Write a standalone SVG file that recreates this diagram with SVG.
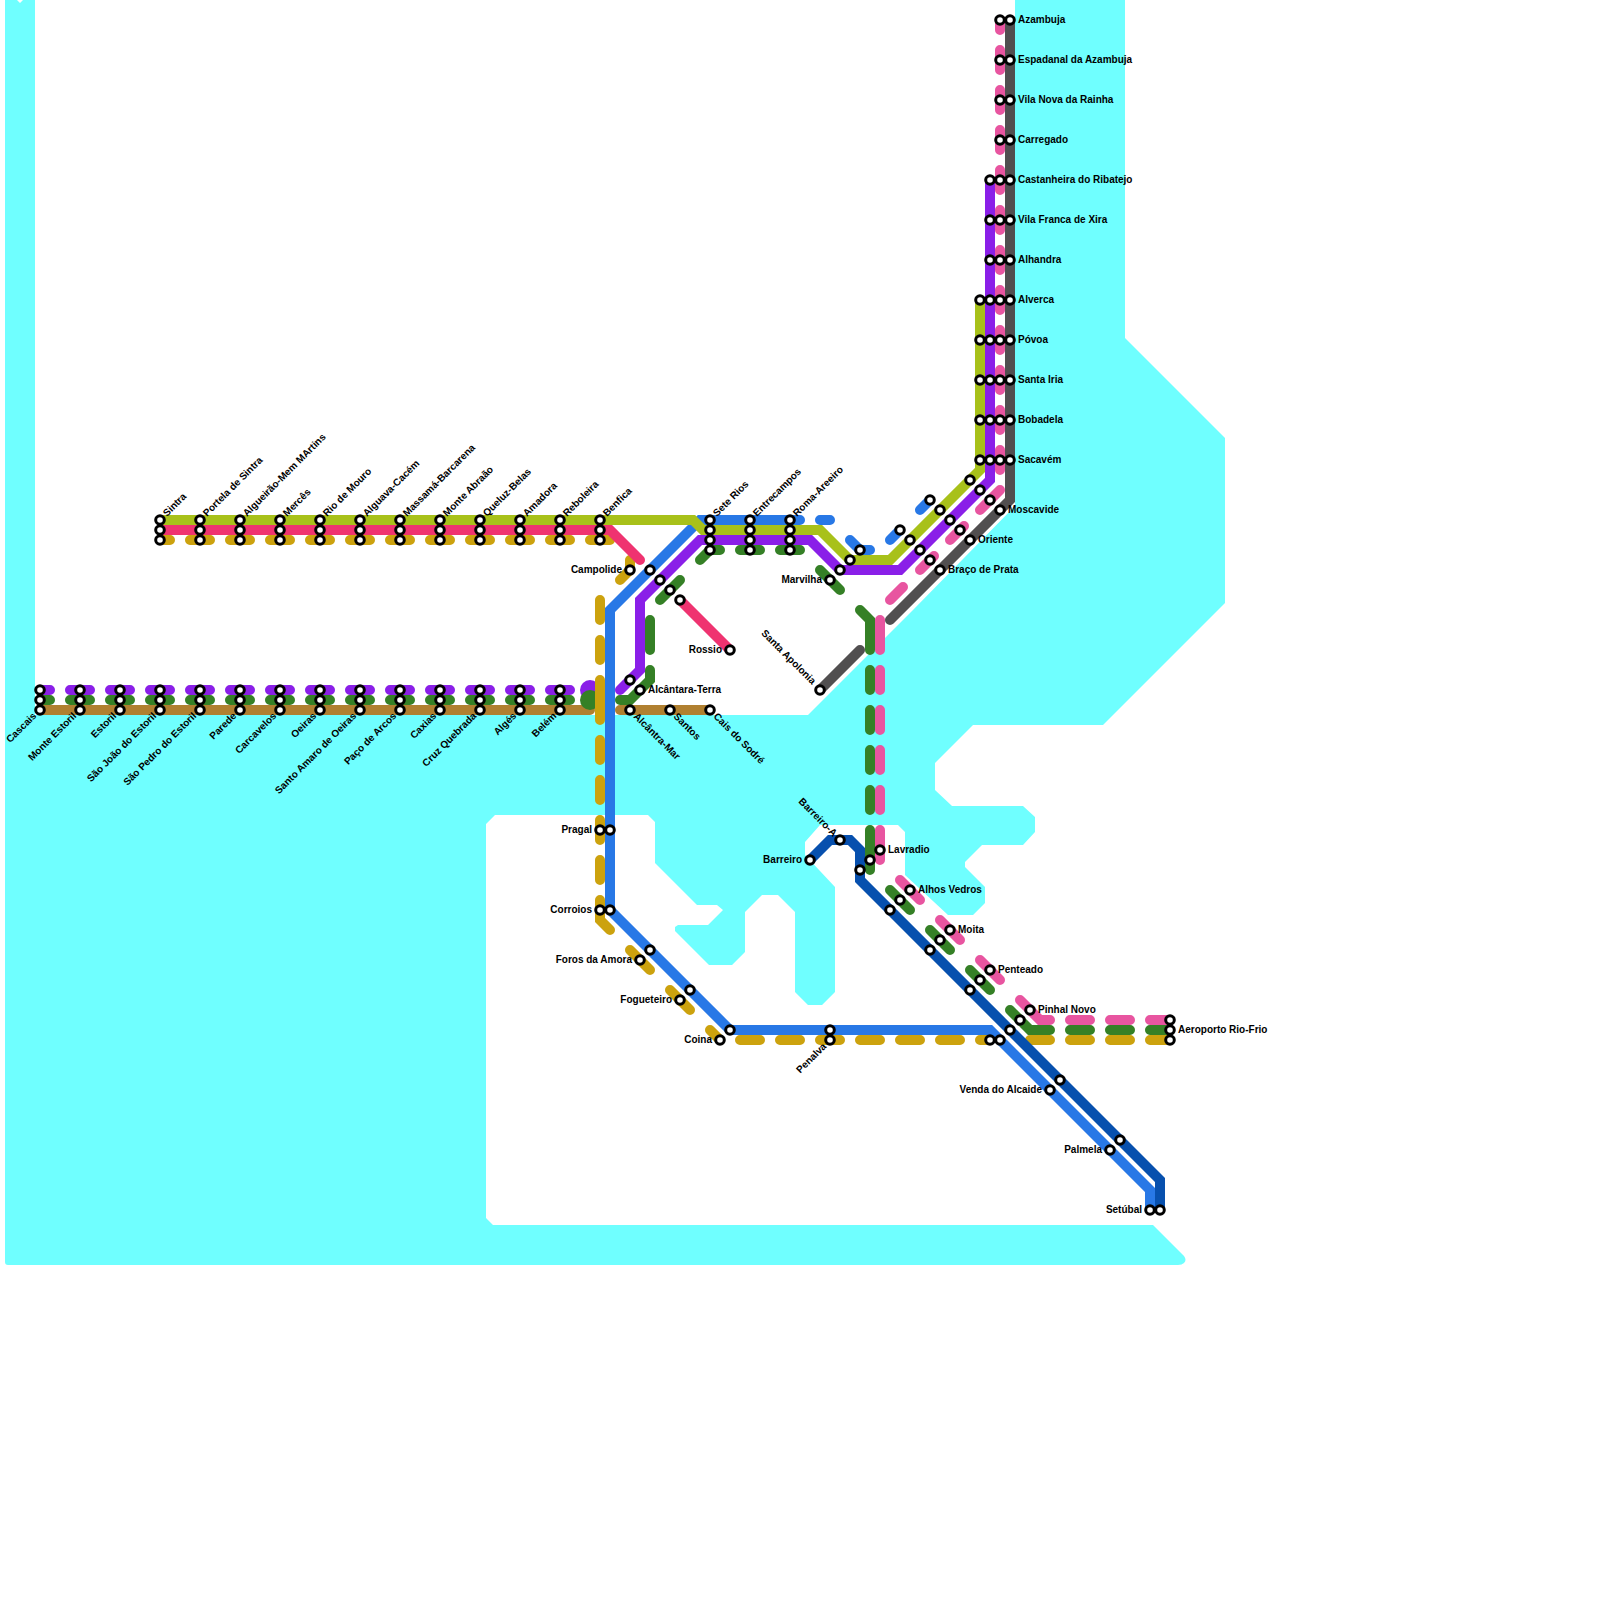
<svg xmlns="http://www.w3.org/2000/svg" width="1600" height="1600" viewBox="0 0 1600 1600">
<style>
.l{fill:none;stroke-width:10;stroke-linecap:round;stroke-linejoin:miter}
circle{fill:#fff;stroke:#000;stroke-width:3}
text{font-family:"Liberation Sans",Arial,sans-serif;font-size:10px;font-weight:700;fill:#000}
.e{text-anchor:end}
</style>
<rect width="1600" height="1600" fill="#fff"/>
<path id="water" fill="#6fffff" d="M5,0H17L20,3L23,0H35V715H808L913,610L1015,506V0H1125V338L1225,438V603L1103,725H973L935,763V790L952,806H1023L1035,817V832L1023,845H982L965,862V867L985,887V903L973,915H948L905,875V832L898,825H820L805,842V855L835,887V992L822,1005H808L795,992V912L778,895H762L745,912V952L732,965H709L675,931V927L678,925H708L723,910L717,905H697L655,863V822L648,815H495L486,824V1218L493,1225H1153L1184,1256Q1187,1260 1184,1263Q1182,1265 1178,1265H8Q5,1265 5,1262Z"/>
<g id="connectors">
<path class="l" stroke="#b08030" d="M40,710H590M620,710H710"/>
<circle cx="590" cy="690" r="10" style="fill:#8a1fe8;stroke:none"/>
<circle cx="590" cy="700" r="10" style="fill:#358026;stroke:none"/>
<path class="l" stroke="#8a1fe8" d="M40,690H50M70,690H90M110,690H130M150,690H170M190,690H210M230,690H250M270,690H290M310,690H330M350,690H370M390,690H410M430,690H450M470,690H490M510,690H530M550,690H570"/>
<path class="l" stroke="#358026" d="M40,700H50M70,700H90M110,700H130M150,700H170M190,700H210M230,700H250M270,700H290M310,700H330M350,700H370M390,700H410M430,700H450M470,700H490M510,700H530M550,700H570M620,700H630L650,680V670M650,620V650M660,600L680,580M700,560L710,550H720M740,550H760M780,550H800M820,570L840,590M860,610L870,620V650M870,670V690M870,710V730M870,750V770M870,790V810M870,830V870M890,890L910,910M930,930L950,950M970,970L990,990M1010,1010L1030,1030H1050M1070,1030H1090M1110,1030H1130M1150,1030H1170"/>
<path class="l" stroke="#cca20e" d="M160,540H170M190,540H210M230,540H250M270,540H290M310,540H330M350,540H370M390,540H410M430,540H450M470,540H490M510,540H530M550,540H570M590,540H610M630,560V570L620,580M600,600V620M600,640V660M600,680V720M600,740V760M600,780V800M600,820V840M600,860V880M600,900V920L610,930M630,950L650,970M670,990L690,1010M710,1030L720,1040M740,1040H760M780,1040H800M820,1040H840M860,1040H880M900,1040H920M940,1040H960M980,1040H990M1030,1040H1050M1070,1040H1090M1110,1040H1130M1150,1040H1170"/>
<path class="l" stroke="#e855a0" d="M1000,20V30M1000,50V70M1000,90V110M1000,130V150M1000,170V190M1000,210V230M1000,250V270M1000,290V310M1000,330V350M1000,370V390M1000,410V430M1000,450V470M980,510L1000,490M950,540L964,526M920,570L934,556M890,600L903,587M880,620V650M880,670V690M880,710V730M880,750V770M880,790V810M880,830V860M900,880L920,900M940,920L960,940M980,960L1000,980M1020,1000L1040,1020H1050M1070,1020H1090M1110,1020H1130M1150,1020H1170"/>
<path class="l" stroke="#ef3370" d="M160,530H610L640,560M680,600L730,650"/>
<path class="l" stroke="#2878e6" d="M800,520H700L610,610V910L730,1030H990L1150,1190V1210M820,520H830M850,540L860,550H870M890,540L900,530M920,510L930,500"/>
<path class="l" stroke="#8a1fe8" d="M990,180V480L900,570H840L810,540H700L640,600V670L620,690"/>
<path class="l" stroke="#a8c11a" d="M160,520H693L703,530H820L850,560H890L980,470V300"/>
<path class="l" stroke="#0750ae" d="M810,860L830,840H850L860,850V880L1160,1180V1210"/>
<path class="l" stroke="#514f50" d="M1010,20V500L890,620M860,650L820,690"/>
</g>
<g id="n-sintra"><circle cx="160" cy="520" r="4.3"/><circle cx="160" cy="530" r="4.3"/><circle cx="160" cy="540" r="4.3"/><text transform="translate(167 517) rotate(-45)">Sintra</text></g>
<g id="n-portela"><circle cx="200" cy="520" r="4.3"/><circle cx="200" cy="530" r="4.3"/><circle cx="200" cy="540" r="4.3"/><text transform="translate(207 517) rotate(-45)">Portela de Sintra</text></g>
<g id="n-algueirao"><circle cx="240" cy="520" r="4.3"/><circle cx="240" cy="530" r="4.3"/><circle cx="240" cy="540" r="4.3"/><text transform="translate(247 517) rotate(-45)">Algueirão-Mem MArtins</text></g>
<g id="n-merces"><circle cx="280" cy="520" r="4.3"/><circle cx="280" cy="530" r="4.3"/><circle cx="280" cy="540" r="4.3"/><text transform="translate(287 517) rotate(-45)">Mercês</text></g>
<g id="n-riomouro"><circle cx="320" cy="520" r="4.3"/><circle cx="320" cy="530" r="4.3"/><circle cx="320" cy="540" r="4.3"/><text transform="translate(327 517) rotate(-45)">Rio de Mouro</text></g>
<g id="n-cacem"><circle cx="360" cy="520" r="4.3"/><circle cx="360" cy="530" r="4.3"/><circle cx="360" cy="540" r="4.3"/><text transform="translate(367 517) rotate(-45)">Alguava-Cacém</text></g>
<g id="n-massama"><circle cx="400" cy="520" r="4.3"/><circle cx="400" cy="530" r="4.3"/><circle cx="400" cy="540" r="4.3"/><text transform="translate(407 517) rotate(-45)">Massamá-Barcarena</text></g>
<g id="n-abraao"><circle cx="440" cy="520" r="4.3"/><circle cx="440" cy="530" r="4.3"/><circle cx="440" cy="540" r="4.3"/><text transform="translate(447 517) rotate(-45)">Monte Abraão</text></g>
<g id="n-queluz"><circle cx="480" cy="520" r="4.3"/><circle cx="480" cy="530" r="4.3"/><circle cx="480" cy="540" r="4.3"/><text transform="translate(487 517) rotate(-45)">Queluz-Belas</text></g>
<g id="n-amadora"><circle cx="520" cy="520" r="4.3"/><circle cx="520" cy="530" r="4.3"/><circle cx="520" cy="540" r="4.3"/><text transform="translate(527 517) rotate(-45)">Amadora</text></g>
<g id="n-reboleira"><circle cx="560" cy="520" r="4.3"/><circle cx="560" cy="530" r="4.3"/><circle cx="560" cy="540" r="4.3"/><text transform="translate(567 517) rotate(-45)">Reboleira</text></g>
<g id="n-benfica"><circle cx="600" cy="520" r="4.3"/><circle cx="600" cy="530" r="4.3"/><circle cx="600" cy="540" r="4.3"/><text transform="translate(607 517) rotate(-45)">Benfica</text></g>
<g id="n-cascais"><circle cx="40" cy="690" r="4.3"/><circle cx="40" cy="700" r="4.3"/><circle cx="40" cy="710" r="4.3"/><text class="e" transform="translate(37 716.5) rotate(-45)">Cascais</text></g>
<g id="n-monteestoril"><circle cx="80" cy="690" r="4.3"/><circle cx="80" cy="700" r="4.3"/><circle cx="80" cy="710" r="4.3"/><text class="e" transform="translate(77 716.5) rotate(-45)">Monte Estoril</text></g>
<g id="n-estoril"><circle cx="120" cy="690" r="4.3"/><circle cx="120" cy="700" r="4.3"/><circle cx="120" cy="710" r="4.3"/><text class="e" transform="translate(117 716.5) rotate(-45)">Estoril</text></g>
<g id="n-saojoao"><circle cx="160" cy="690" r="4.3"/><circle cx="160" cy="700" r="4.3"/><circle cx="160" cy="710" r="4.3"/><text class="e" transform="translate(157 716.5) rotate(-45)">São João do Estoril</text></g>
<g id="n-saopedro"><circle cx="200" cy="690" r="4.3"/><circle cx="200" cy="700" r="4.3"/><circle cx="200" cy="710" r="4.3"/><text class="e" transform="translate(197 716.5) rotate(-45)">São Pedro do Estoril</text></g>
<g id="n-parede"><circle cx="240" cy="690" r="4.3"/><circle cx="240" cy="700" r="4.3"/><circle cx="240" cy="710" r="4.3"/><text class="e" transform="translate(237 716.5) rotate(-45)">Parede</text></g>
<g id="n-carcavelos"><circle cx="280" cy="690" r="4.3"/><circle cx="280" cy="700" r="4.3"/><circle cx="280" cy="710" r="4.3"/><text class="e" transform="translate(277 716.5) rotate(-45)">Carcavelos</text></g>
<g id="n-oeiras"><circle cx="320" cy="690" r="4.3"/><circle cx="320" cy="700" r="4.3"/><circle cx="320" cy="710" r="4.3"/><text class="e" transform="translate(317 716.5) rotate(-45)">Oeiras</text></g>
<g id="n-santoamaro"><circle cx="360" cy="690" r="4.3"/><circle cx="360" cy="700" r="4.3"/><circle cx="360" cy="710" r="4.3"/><text class="e" transform="translate(357 716.5) rotate(-45)">Santo Amaro de Oeiras</text></g>
<g id="n-pacoarcos"><circle cx="400" cy="690" r="4.3"/><circle cx="400" cy="700" r="4.3"/><circle cx="400" cy="710" r="4.3"/><text class="e" transform="translate(397 716.5) rotate(-45)">Paço de Arcos</text></g>
<g id="n-caxias"><circle cx="440" cy="690" r="4.3"/><circle cx="440" cy="700" r="4.3"/><circle cx="440" cy="710" r="4.3"/><text class="e" transform="translate(437 716.5) rotate(-45)">Caxias</text></g>
<g id="n-cruzquebrada"><circle cx="480" cy="690" r="4.3"/><circle cx="480" cy="700" r="4.3"/><circle cx="480" cy="710" r="4.3"/><text class="e" transform="translate(477 716.5) rotate(-45)">Cruz Quebrada</text></g>
<g id="n-alges"><circle cx="520" cy="690" r="4.3"/><circle cx="520" cy="700" r="4.3"/><circle cx="520" cy="710" r="4.3"/><text class="e" transform="translate(517 716.5) rotate(-45)">Algés</text></g>
<g id="n-belem"><circle cx="560" cy="690" r="4.3"/><circle cx="560" cy="700" r="4.3"/><circle cx="560" cy="710" r="4.3"/><text class="e" transform="translate(557 716.5) rotate(-45)">Belém</text></g>
<g id="n-campolide"><circle cx="630" cy="570" r="4.3"/><circle cx="650" cy="570" r="4.3"/><circle cx="660" cy="580" r="4.3"/><circle cx="670" cy="590" r="4.3"/><circle cx="680" cy="600" r="4.3"/><text class="e" x="622" y="573">Campolide</text></g>
<g id="n-rossio"><circle cx="730" cy="650" r="4.3"/><text class="e" x="722" y="653">Rossio</text></g>
<g id="n-alcantaraterra"><circle cx="630" cy="680" r="4.3"/><circle cx="640" cy="690" r="4.3"/><text x="648" y="693">Alcântara-Terra</text></g>
<g id="n-alcantramar"><circle cx="630" cy="710" r="4.3"/><text transform="translate(633 717) rotate(45)">Alcântra-Mar</text></g>
<g id="n-santos"><circle cx="670" cy="710" r="4.3"/><text transform="translate(673 717) rotate(45)">Santos</text></g>
<g id="n-caisdosodre"><circle cx="710" cy="710" r="4.3"/><text transform="translate(713 717) rotate(45)">Cais do Sodré</text></g>
<g id="n-seterios"><circle cx="710" cy="520" r="4.3"/><circle cx="710" cy="530" r="4.3"/><circle cx="710" cy="540" r="4.3"/><circle cx="710" cy="550" r="4.3"/><text transform="translate(717 517) rotate(-45)">Sete Rios</text></g>
<g id="n-entrecampos"><circle cx="750" cy="520" r="4.3"/><circle cx="750" cy="530" r="4.3"/><circle cx="750" cy="540" r="4.3"/><circle cx="750" cy="550" r="4.3"/><text transform="translate(757 517) rotate(-45)">Entrecampos</text></g>
<g id="n-roma"><circle cx="790" cy="520" r="4.3"/><circle cx="790" cy="530" r="4.3"/><circle cx="790" cy="540" r="4.3"/><circle cx="790" cy="550" r="4.3"/><text transform="translate(797 517) rotate(-45)">Roma-Areeiro</text></g>
<g id="n-marvilha"><circle cx="860" cy="550" r="4.3"/><circle cx="850" cy="560" r="4.3"/><circle cx="840" cy="570" r="4.3"/><circle cx="830" cy="580" r="4.3"/><text class="e" x="822" y="583">Marvilha</text></g>
<g id="n-bracodeprata"><circle cx="900" cy="530" r="4.3"/><circle cx="910" cy="540" r="4.3"/><circle cx="920" cy="550" r="4.3"/><circle cx="930" cy="560" r="4.3"/><circle cx="940" cy="570" r="4.3"/><text x="948" y="573">Braço de Prata</text></g>
<g id="n-oriente"><circle cx="930" cy="500" r="4.3"/><circle cx="940" cy="510" r="4.3"/><circle cx="950" cy="520" r="4.3"/><circle cx="960" cy="530" r="4.3"/><circle cx="970" cy="540" r="4.3"/><text x="978" y="543">Oriente</text></g>
<g id="n-moscavide"><circle cx="970" cy="480" r="4.3"/><circle cx="980" cy="490" r="4.3"/><circle cx="990" cy="500" r="4.3"/><circle cx="1000" cy="510" r="4.3"/><text x="1008" y="513">Moscavide</text></g>
<g id="n-santaapolonia"><circle cx="820" cy="690" r="4.3"/><text class="e" transform="translate(812 685) rotate(45)">Santa Apolonia</text></g>
<g id="n-azambuja"><circle cx="1000" cy="20" r="4.3"/><circle cx="1010" cy="20" r="4.3"/><text x="1018" y="23">Azambuja</text></g>
<g id="n-espadanal"><circle cx="1000" cy="60" r="4.3"/><circle cx="1010" cy="60" r="4.3"/><text x="1018" y="63">Espadanal da Azambuja</text></g>
<g id="n-vilanova"><circle cx="1000" cy="100" r="4.3"/><circle cx="1010" cy="100" r="4.3"/><text x="1018" y="103">Vila Nova da Rainha</text></g>
<g id="n-carregado"><circle cx="1000" cy="140" r="4.3"/><circle cx="1010" cy="140" r="4.3"/><text x="1018" y="143">Carregado</text></g>
<g id="n-castanheira"><circle cx="990" cy="180" r="4.3"/><circle cx="1000" cy="180" r="4.3"/><circle cx="1010" cy="180" r="4.3"/><text x="1018" y="183">Castanheira do Ribatejo</text></g>
<g id="n-vilafranca"><circle cx="990" cy="220" r="4.3"/><circle cx="1000" cy="220" r="4.3"/><circle cx="1010" cy="220" r="4.3"/><text x="1018" y="223">Vila Franca de Xira</text></g>
<g id="n-alhandra"><circle cx="990" cy="260" r="4.3"/><circle cx="1000" cy="260" r="4.3"/><circle cx="1010" cy="260" r="4.3"/><text x="1018" y="263">Alhandra</text></g>
<g id="n-alverca"><circle cx="980" cy="300" r="4.3"/><circle cx="990" cy="300" r="4.3"/><circle cx="1000" cy="300" r="4.3"/><circle cx="1010" cy="300" r="4.3"/><text x="1018" y="303">Alverca</text></g>
<g id="n-povoa"><circle cx="980" cy="340" r="4.3"/><circle cx="990" cy="340" r="4.3"/><circle cx="1000" cy="340" r="4.3"/><circle cx="1010" cy="340" r="4.3"/><text x="1018" y="343">Póvoa</text></g>
<g id="n-santairia"><circle cx="980" cy="380" r="4.3"/><circle cx="990" cy="380" r="4.3"/><circle cx="1000" cy="380" r="4.3"/><circle cx="1010" cy="380" r="4.3"/><text x="1018" y="383">Santa Iria</text></g>
<g id="n-bobadela"><circle cx="980" cy="420" r="4.3"/><circle cx="990" cy="420" r="4.3"/><circle cx="1000" cy="420" r="4.3"/><circle cx="1010" cy="420" r="4.3"/><text x="1018" y="423">Bobadela</text></g>
<g id="n-sacavem"><circle cx="980" cy="460" r="4.3"/><circle cx="990" cy="460" r="4.3"/><circle cx="1000" cy="460" r="4.3"/><circle cx="1010" cy="460" r="4.3"/><text x="1018" y="463">Sacavém</text></g>
<g id="n-pragal"><circle cx="600" cy="830" r="4.3"/><circle cx="610" cy="830" r="4.3"/><text class="e" x="592" y="833">Pragal</text></g>
<g id="n-corroios"><circle cx="600" cy="910" r="4.3"/><circle cx="610" cy="910" r="4.3"/><text class="e" x="592" y="913">Corroios</text></g>
<g id="n-foros"><circle cx="650" cy="950" r="4.3"/><circle cx="640" cy="960" r="4.3"/><text class="e" x="632" y="963">Foros da Amora</text></g>
<g id="n-fogueteiro"><circle cx="690" cy="990" r="4.3"/><circle cx="680" cy="1000" r="4.3"/><text class="e" x="672" y="1003">Fogueteiro</text></g>
<g id="n-coina"><circle cx="730" cy="1030" r="4.3"/><circle cx="720" cy="1040" r="4.3"/><text class="e" x="712" y="1043">Coina</text></g>
<g id="n-penalva"><circle cx="830" cy="1030" r="4.3"/><circle cx="830" cy="1040" r="4.3"/><text class="e" transform="translate(827 1047) rotate(-45)">Penalva</text></g>
<g id="n-barreiro"><circle cx="810" cy="860" r="4.3"/><text class="e" x="802" y="863">Barreiro</text></g>
<g id="n-barreiroa"><circle cx="840" cy="840" r="4.3"/><text class="e" transform="translate(833 837) rotate(45)">Barreiro-A</text></g>
<g id="n-lavradio"><circle cx="880" cy="850" r="4.3"/><circle cx="870" cy="860" r="4.3"/><circle cx="860" cy="870" r="4.3"/><text x="888" y="853">Lavradio</text></g>
<g id="n-alhos"><circle cx="910" cy="890" r="4.3"/><circle cx="900" cy="900" r="4.3"/><circle cx="890" cy="910" r="4.3"/><text x="918" y="893">Alhos Vedros</text></g>
<g id="n-moita"><circle cx="950" cy="930" r="4.3"/><circle cx="940" cy="940" r="4.3"/><circle cx="930" cy="950" r="4.3"/><text x="958" y="933">Moita</text></g>
<g id="n-penteado"><circle cx="990" cy="970" r="4.3"/><circle cx="980" cy="980" r="4.3"/><circle cx="970" cy="990" r="4.3"/><text x="998" y="973">Penteado</text></g>
<g id="n-pinhal"><circle cx="1030" cy="1010" r="4.3"/><circle cx="1020" cy="1020" r="4.3"/><circle cx="1010" cy="1030" r="4.3"/><text x="1038" y="1013">Pinhal Novo</text></g>
<g id="n-extra"><circle cx="990" cy="1040" r="4.3"/><circle cx="1000" cy="1040" r="4.3"/></g>
<g id="n-aeroporto"><circle cx="1170" cy="1020" r="4.3"/><circle cx="1170" cy="1030" r="4.3"/><circle cx="1170" cy="1040" r="4.3"/><text x="1178" y="1033">Aeroporto Rio-Frio</text></g>
<g id="n-venda"><circle cx="1060" cy="1080" r="4.3"/><circle cx="1050" cy="1090" r="4.3"/><text class="e" x="1042" y="1093">Venda do Alcaide</text></g>
<g id="n-palmela"><circle cx="1120" cy="1140" r="4.3"/><circle cx="1110" cy="1150" r="4.3"/><text class="e" x="1102" y="1153">Palmela</text></g>
<g id="n-setubal"><circle cx="1150" cy="1210" r="4.3"/><circle cx="1160" cy="1210" r="4.3"/><text class="e" x="1142" y="1213">Setúbal</text></g>
</svg>
